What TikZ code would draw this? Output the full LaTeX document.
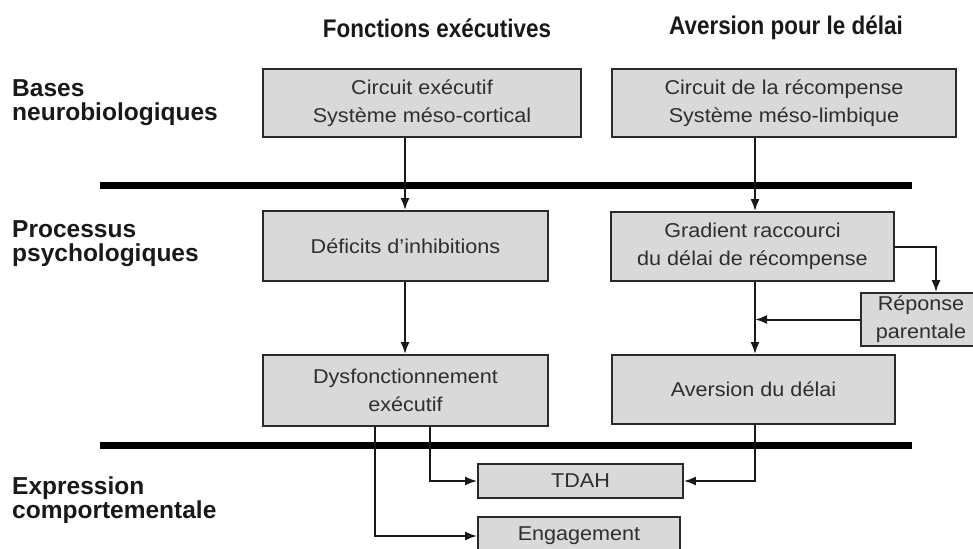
\documentclass[tikz,border=0pt]{standalone}
\usepackage{fontspec}
\setmainfont{Liberation Sans}
\newfontfamily\hdfont[FakeStretch=0.88]{Liberation Sans}
\newfontfamily\bodyfont[FakeStretch=1.08]{Liberation Sans}
\newfontfamily\lblfont[FakeStretch=1.0]{Liberation Sans}
\usetikzlibrary{arrows.meta,calc}
\definecolor{boxfill}{HTML}{D9D9D9}
\definecolor{boxline}{HTML}{2A2A2A}
\definecolor{txt}{HTML}{2E2E2E}
\tikzset{
  box/.style={draw=boxline, line width=1.7pt, fill=boxfill, inner sep=0pt,
    align=center, text=txt, font=\bodyfont\fontsize{20}{28}\selectfont},
  head/.style={inner sep=0pt, font=\hdfont\bfseries\fontsize{25.5}{28}\selectfont, text=black!90},
  lbl/.style={inner sep=0pt, align=left, anchor=north west,
    font=\lblfont\bfseries\fontsize{24.5}{24}\selectfont, text=black!90},
  arr/.style={line width=2pt, draw=black!90, -{Latex[length=12pt,width=9pt]}},
  sep/.style={line width=7pt, draw=black}
}
\begin{document}
\begin{tikzpicture}[x=1pt,y=-1pt]
\useasboundingbox (0,0) rectangle (973,548);
% headers
\node[head] (h1) at (437,28) {Fonctions exécutives};
\node[head] (h2) at (786,28) {Aversion pour le délai};
% left labels
\node[lbl] (l1) at (12,79) {Bases\\neurobiologiques};
\node[lbl] (l2) at (12,220) {Processus\\psychologiques};
\node[lbl] (l3) at (12,477) {Expression\\comportementale};
% separators
\coordinate (s1a) at (100,185); \coordinate (s1b) at (912,185);
\coordinate (s2a) at (100,445); \coordinate (s2b) at (912,445);
\draw[sep] (s1a) -- (s1b);
\draw[sep] (s2a) -- (s2b);
% boxes
\node[box, minimum width=318pt, minimum height=68pt] (b1) at (422,103) {Circuit exécutif\\Système méso-cortical};
\node[box, minimum width=344pt, minimum height=68pt] (b2) at (784,103) {Circuit de la récompense\\Système méso-limbique};
\node[box, minimum width=285pt, minimum height=70pt] (d) at (405.5,246) {Déficits d’inhibitions};
\node[box, minimum width=283pt, minimum height=69pt] (g) at (752.5,246.5) {Gradient raccourci\\du délai de récompense};
\node[box, minimum width=120pt, minimum height=53pt] (r) at (921,319.5) {Réponse\\parentale};
\node[box, minimum width=285pt, minimum height=71pt] (f) at (405.5,390.5) {Dysfonctionnement\\exécutif};
\node[box, minimum width=283pt, minimum height=69pt] (a) at (753.5,389.5) {Aversion du délai};
\node[box, minimum width=205pt, minimum height=34pt] (t) at (580.5,481) {TDAH};
\node[box, minimum width=202pt, minimum height=38pt] (e) at (579,536) {Engagement};
% connector columns
\coordinate (xl) at (405,0);
\coordinate (xr) at (755,0);
\coordinate (xp) at (936,0);
\coordinate (xa) at (430,0);
\coordinate (xb) at (375,0);
% connectors
\draw[arr] (b1.south -| xl) -- (d.north -| xl);
\draw[arr] (d.south -| xl) -- (f.north -| xl);
\draw[arr] (b2.south -| xr) -- (g.north -| xr);
\draw[arr] (g.south -| xr) -- (a.north -| xr);
\draw[arr] (g.east) -| (xp |- r.north);
\draw[arr] (r.west) -- (r.west -| xr);
\draw[arr] (f.south -| xa) |- (t.west);
\draw[arr] (f.south -| xb) |- (e.west);
\draw[arr] (a.south -| xr) |- (t.east);
\end{tikzpicture}
\end{document}
